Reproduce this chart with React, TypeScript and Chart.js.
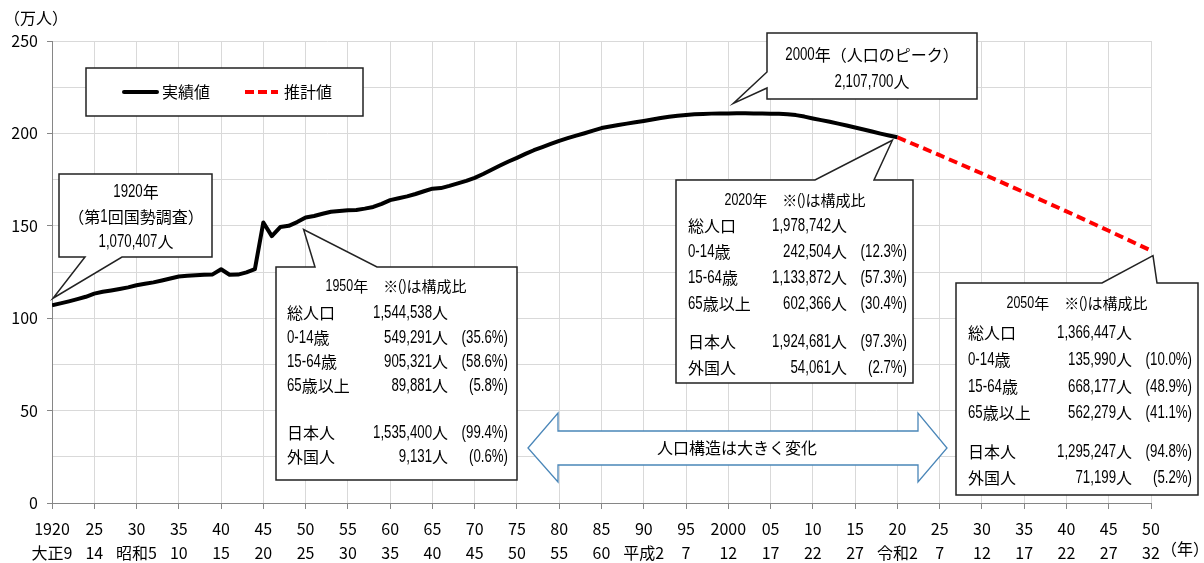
import React, { useEffect, useRef } from "react";
import { Chart, registerables } from "chart.js";

Chart.register(...registerables);

const FONT = "'Liberation Sans Narrow', 'Arial Narrow', 'Noto Sans CJK JP', sans-serif";
const LAT = "'Liberation Sans', Arial, sans-serif";
const CJK = "'Noto Sans CJK JP', sans-serif";
const SX = 0.74;
const LAT_SCALE = 1.12;

// 実績値（万人）1920–2020
const actualYears = Array.from({ length: 101 }, (_, i) => 1920 + i);
const actualValues = [
  107.0, 108.0, 109.1, 110.3, 111.6, 113.3, 114.3, 115.0, 115.8, 116.7,
  117.8, 118.6, 119.4, 120.4, 121.5, 122.6, 123.0, 123.3, 123.5, 123.7,
  126.5, 123.5, 123.6, 124.8, 126.5, 151.8, 144.4, 149.3, 150.0, 152.0,
  154.5, 155.3, 156.5, 157.6, 158.0, 158.4, 158.6, 159.3, 160.2, 161.9,
  163.9, 164.9, 165.9, 167.2, 168.7, 170.1, 170.4, 171.6, 173.0, 174.3,
  175.9, 178.0, 180.3, 182.6, 184.8, 186.8, 188.9, 190.9, 192.6, 194.3,
  196.0, 197.4, 198.8, 200.1, 201.5, 202.9, 203.7, 204.5, 205.3, 206.0,
  206.7, 207.5, 208.3, 209.0, 209.6, 210.0, 210.3, 210.5, 210.7, 210.8,
  210.8, 210.9, 210.9, 210.8, 210.8, 210.7, 210.6, 210.4, 209.9, 209.1,
  208.1, 207.2, 206.3, 205.3, 204.3, 203.2, 202.1, 201.0, 199.9, 198.9,
  197.9,
];

// 推計値（万人）
const projYears = [2020, 2025, 2030, 2035, 2040, 2045, 2050];
const projValues = [197.9, 188.2, 178.3, 168.1, 157.8, 147.3, 136.6];

// x軸目盛
const tickYears = [1920, 1925, 1930, 1935, 1940, 1945, 1950, 1955, 1960, 1965, 1970, 1975, 1980, 1985, 1990, 1995, 2000, 2005, 2010, 2015, 2020, 2025, 2030, 2035, 2040, 2045, 2050];
const tickTop = ["1920", "25", "30", "35", "40", "45", "50", "55", "60", "65", "70", "75", "80", "85", "90", "95", "2000", "05", "10", "15", "20", "25", "30", "35", "40", "45", "50"];
const tickBottom = ["大正9", "14", "昭和5", "10", "15", "20", "25", "30", "35", "40", "45", "50", "55", "60", "平成2", "7", "12", "17", "22", "27", "令和2", "7", "12", "17", "22", "27", "32"];

const rows1950 = [
  ["総人口", "1,544,538人", ""],
  ["0-14歳", "549,291人", "(35.6%)"],
  ["15-64歳", "905,321人", "(58.6%)"],
  ["65歳以上", "89,881人", "(5.8%)"],
  ["日本人", "1,535,400人", "(99.4%)"],
  ["外国人", "9,131人", "(0.6%)"],
];
const rows2020 = [
  ["総人口", "1,978,742人", ""],
  ["0-14歳", "242,504人", "(12.3%)"],
  ["15-64歳", "1,133,872人", "(57.3%)"],
  ["65歳以上", "602,366人", "(30.4%)"],
  ["日本人", "1,924,681人", "(97.3%)"],
  ["外国人", "54,061人", "(2.7%)"],
];
const rows2050 = [
  ["総人口", "1,366,447人", ""],
  ["0-14歳", "135,990人", "(10.0%)"],
  ["15-64歳", "668,177人", "(48.9%)"],
  ["65歳以上", "562,279人", "(41.1%)"],
  ["日本人", "1,295,247人", "(94.8%)"],
  ["外国人", "71,199人", "(5.2%)"],
];

type Pt = { x: number; y: number };

// 半角文字は狭幅で、全角文字は通常幅で描く
function drawMixed(ctx: CanvasRenderingContext2D, text: string, x: number, y: number, align: string, size: number) {
  const runs = text.match(/[\x00-\x7f]+|[^\x00-\x7f]+/g) || [];
  const latSize = size * LAT_SCALE;
  const items = runs.map((r) => {
    const lat = r.charCodeAt(0) < 128;
    ctx.font = lat ? `${latSize}px ${LAT}` : `${size}px ${CJK}`;
    const w = ctx.measureText(r).width * (lat ? SX : 1);
    return { r, lat, w };
  });
  const total = items.reduce((a, b) => a + b.w, 0);
  let cx = align === "left" ? x : align === "right" ? x - total : x - total / 2;
  ctx.textAlign = "left";
  ctx.textBaseline = "middle";
  ctx.fillStyle = "#000";
  for (const it of items) {
    ctx.font = it.lat ? `${latSize}px ${LAT}` : `${size}px ${CJK}`;
    if (it.lat) {
      ctx.save();
      ctx.translate(cx, y);
      ctx.scale(SX, 1);
      ctx.fillText(it.r, 0, 0);
      ctx.restore();
    } else {
      ctx.fillText(it.r, cx, y);
    }
    cx += it.w;
  }
}

function calloutPath(ctx: CanvasRenderingContext2D, L: number, T: number, R: number, B: number, edge: string, b1: number, b2: number, tip: Pt) {
  ctx.beginPath();
  if (edge === "top") {
    ctx.moveTo(L, T); ctx.lineTo(b1, T); ctx.lineTo(tip.x, tip.y); ctx.lineTo(b2, T);
    ctx.lineTo(R, T); ctx.lineTo(R, B); ctx.lineTo(L, B);
  } else if (edge === "bottom") {
    ctx.moveTo(L, T); ctx.lineTo(R, T); ctx.lineTo(R, B); ctx.lineTo(b2, B);
    ctx.lineTo(tip.x, tip.y); ctx.lineTo(b1, B); ctx.lineTo(L, B);
  } else {
    ctx.moveTo(L, T); ctx.lineTo(R, T); ctx.lineTo(R, B); ctx.lineTo(L, B);
    ctx.lineTo(L, b2); ctx.lineTo(tip.x, tip.y); ctx.lineTo(L, b1);
  }
  ctx.closePath();
  ctx.fillStyle = "#fff";
  ctx.fill();
  ctx.lineWidth = 1.5;
  ctx.strokeStyle = "#222";
  ctx.stroke();
}

function drawTable(ctx: CanvasRenderingContext2D, title: string, titleX: number, titleY: number, rows: string[][], ys: number[], labelX: number, valR: number, pctR: number) {
  drawMixed(ctx, title, titleX, titleY, "center", 15);
  rows.forEach((r, i) => {
    drawMixed(ctx, r[0], labelX, ys[i], "left", 16);
    drawMixed(ctx, r[1], valR, ys[i], "right", 16);
    if (r[2]) drawMixed(ctx, r[2], pctR, ys[i], "right", 16);
  });
}

const annotPlugin = {
  id: "annot",
  afterDraw(chart: any) {
    const ctx: CanvasRenderingContext2D = chart.ctx;
    const xs = chart.scales.x;
    const ys = chart.scales.y;
    const px = (yr: number, v: number): Pt => ({ x: xs.getPixelForValue(yr), y: ys.getPixelForValue(v) });
    const valAt = (yr: number) => actualValues[actualYears.indexOf(yr)];
    ctx.save();

    // 単位
    drawMixed(ctx, "（万人）", 4, 18, "left", 16);
    drawMixed(ctx, "（年）", 1185, 549, "center", 16);

    // 凡例
    ctx.fillStyle = "#fff";
    ctx.fillRect(86, 68, 277, 48);
    ctx.lineWidth = 1.5;
    ctx.strokeStyle = "#222";
    ctx.strokeRect(86, 68, 277, 48);
    ctx.beginPath();
    ctx.moveTo(124, 92); ctx.lineTo(157, 92);
    ctx.lineWidth = 4; ctx.strokeStyle = "#000"; ctx.lineCap = "round";
    ctx.stroke();
    ctx.beginPath();
    ctx.setLineDash([9, 4]);
    ctx.lineCap = "butt";
    ctx.moveTo(245, 92); ctx.lineTo(278, 92);
    ctx.strokeStyle = "#ff0000";
    ctx.stroke();
    ctx.setLineDash([]);
    drawMixed(ctx, "実績値", 162, 92, "left", 16);
    drawMixed(ctx, "推計値", 284, 92, "left", 16);

    // 1920年
    const p1920 = px(1920, valAt(1920));
    calloutPath(ctx, 59, 174, 212, 257, "bottom", 85, 122, { x: p1920.x + 1, y: p1920.y - 7 });
    drawMixed(ctx, "1920年", 136, 192, "center", 16);
    drawMixed(ctx, "（第1回国勢調査）", 136, 217, "center", 16);
    drawMixed(ctx, "1,070,407人", 136, 242, "center", 16);

    // 1950年
    const p1950 = px(1950, valAt(1950));
    calloutPath(ctx, 276, 267, 517, 480, "top", 315, 377, { x: p1950.x - 2, y: p1950.y + 12 });
    drawTable(ctx, "1950年　※()は構成比", 396, 286, rows1950, [313, 338, 362, 386, 433, 457], 287, 448, 508);

    // 2000年 ピーク
    const p2000 = px(2000, valAt(2000));
    calloutPath(ctx, 767, 33, 977, 99, "left", 72, 88, { x: p2000.x + 5, y: p2000.y - 10 });
    drawMixed(ctx, "2000年（人口のピーク）", 872, 55, "center", 16);
    drawMixed(ctx, "2,107,700人", 872, 82, "center", 16);

    // 2020年
    const p2020 = px(2020, valAt(2020));
    calloutPath(ctx, 676, 180, 913, 383, "top", 815, 874, { x: p2020.x - 5, y: p2020.y + 3 });
    drawTable(ctx, "2020年　※()は構成比", 795, 200, rows2020, [226, 252, 278, 304, 342, 368], 688, 847, 907);

    // 2050年
    const p2050 = px(2050, projValues[projValues.length - 1]);
    calloutPath(ctx, 956, 283, 1198, 495, "top", 1102, 1157, { x: p2050.x + 2, y: p2050.y + 5 });
    drawTable(ctx, "2050年　※()は構成比", 1077, 303, rows2050, [333, 360, 387, 413, 452, 478], 968, 1132, 1192);

    // 双方向矢印
    ctx.beginPath();
    ctx.moveTo(528, 448);
    ctx.lineTo(558, 413); ctx.lineTo(558, 431); ctx.lineTo(918, 431); ctx.lineTo(918, 413);
    ctx.lineTo(947, 448);
    ctx.lineTo(918, 482); ctx.lineTo(918, 465); ctx.lineTo(558, 465); ctx.lineTo(558, 482);
    ctx.closePath();
    ctx.fillStyle = "#fff";
    ctx.fill();
    ctx.lineWidth = 1.3;
    ctx.strokeStyle = "#4a86b8";
    ctx.stroke();
    drawMixed(ctx, "人口構造は大きく変化", 737, 448, "center", 16);

    ctx.restore();
  },
};

export default function App() {
  const ref = useRef<HTMLCanvasElement | null>(null);
  useEffect(() => {
    if (!ref.current) return;
    const chart = new Chart(ref.current, {
      type: "line",
      data: {
        datasets: [
          {
            label: "実績値",
            data: actualYears.map((y, i) => ({ x: y, y: actualValues[i] })),
            borderColor: "#000",
            borderWidth: 4,
            pointRadius: 0,
            tension: 0,
            borderJoinStyle: "round",
          },
          {
            label: "推計値",
            data: projYears.map((y, i) => ({ x: y, y: projValues[i] })),
            borderColor: "#ff0000",
            borderWidth: 4,
            borderDash: [9, 5],
            pointRadius: 0,
            tension: 0,
          },
        ],
      },
      options: {
        animation: false,
        responsive: false,
        layout: { padding: { top: 41, right: 53, left: 0, bottom: 0 } },
        plugins: { legend: { display: false }, tooltip: { enabled: false } },
        scales: {
          x: {
            type: "linear",
            min: 1920,
            max: 2050,
            afterBuildTicks: (scale: any) => {
              scale.ticks = tickYears.map((v) => ({ value: v }));
            },
            afterFit: (s: any) => {
              s.height = 60;
            },
            ticks: {
              autoSkip: false,
              maxRotation: 0,
              minRotation: 0,
              padding: 8,
              color: "#000",
              font: { family: FONT, size: 16, lineHeight: 1.5 },
              callback: (v: any) => {
                const i = tickYears.indexOf(Number(v));
                return i >= 0 ? [tickTop[i], tickBottom[i]] : "";
              },
            },
            grid: { color: "#d9d9d9", tickColor: "#868686", tickLength: 6 },
            border: { color: "#868686", width: 1 },
          },
          y: {
            min: 0,
            max: 250,
            afterFit: (s: any) => {
              s.width = 52;
            },
            ticks: {
              stepSize: 25,
              padding: 9,
              color: "#000",
              font: { family: FONT, size: 16 },
              callback: (v: any) => (Number(v) % 50 === 0 ? String(v) : ""),
            },
            grid: {
              color: "#d9d9d9",
              tickLength: 5,
              tickColor: (c: any) => (c.tick && c.tick.value % 50 === 0 ? "#868686" : "rgba(0,0,0,0)"),
            },
            border: { color: "#868686", width: 1 },
          },
        },
      },
      plugins: [annotPlugin],
    } as any);
    return () => chart.destroy();
  }, []);
  return (
    <div style={{ position: "fixed", left: 0, top: 0, width: 1204, height: 563, background: "#fff" }}>
      <canvas ref={ref} width={1204} height={563} style={{ display: "block" }} />
    </div>
  );
}
